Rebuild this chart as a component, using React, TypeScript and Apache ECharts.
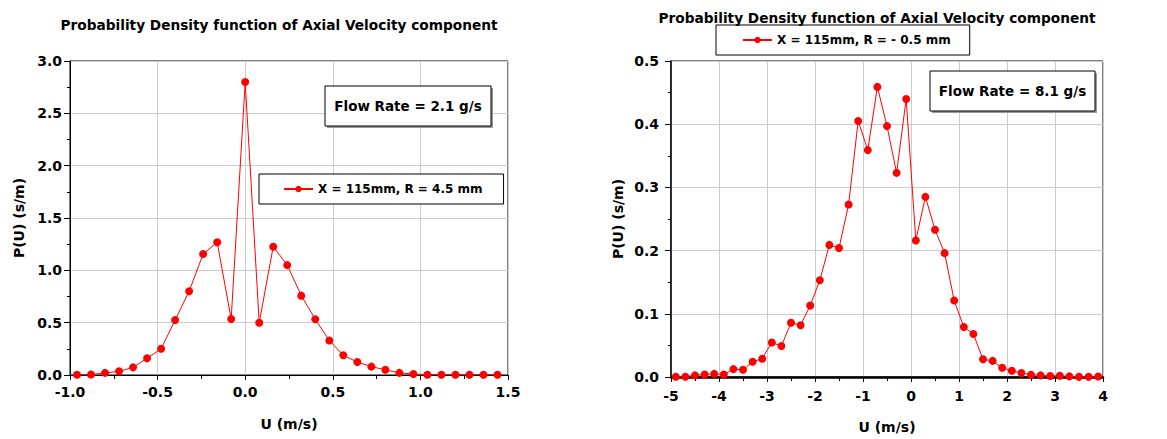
import React, { useEffect, useRef } from "react";
import * as echarts from "echarts";

const titleText = "Probability Density function of Axial Velocity component";

// Left chart (Flow Rate = 2.1 g/s)
const leftName = "X = 115mm, R = 4.5 mm";
const leftFlow = "Flow Rate = 2.1 g/s";
const leftU = [-0.96, -0.88, -0.8, -0.72, -0.64, -0.56, -0.48, -0.4, -0.32, -0.24, -0.16, -0.08, 0, 0.08, 0.16, 0.24, 0.32, 0.4, 0.48, 0.56, 0.64, 0.72, 0.8, 0.88, 0.96, 1.04, 1.12, 1.2, 1.28, 1.36, 1.44];
const leftP = [0.003, 0.005, 0.02, 0.035, 0.073, 0.16, 0.25, 0.525, 0.8, 1.156, 1.268, 0.535, 2.8, 0.5, 1.226, 1.05, 0.758, 0.532, 0.33, 0.188, 0.124, 0.08, 0.05, 0.02, 0.01, 0.003, 0.003, 0.003, 0.003, 0.003, 0.003];

// Right chart (Flow Rate = 8.1 g/s)
const rightName = "X = 115mm, R = - 0.5 mm";
const rightFlow = "Flow Rate = 8.1 g/s";
const rightU = [-4.9, -4.7, -4.5, -4.3, -4.1, -3.9, -3.7, -3.5, -3.3, -3.1, -2.9, -2.7, -2.5, -2.3, -2.1, -1.9, -1.7, -1.5, -1.3, -1.1, -0.9, -0.7, -0.5, -0.3, -0.1, 0.1, 0.3, 0.5, 0.7, 0.9, 1.1, 1.3, 1.5, 1.7, 1.9, 2.1, 2.3, 2.5, 2.7, 2.9, 3.1, 3.3, 3.5, 3.7, 3.9];
const rightP = [0.0005, 0.0005, 0.0026, 0.004, 0.005, 0.004, 0.0125, 0.0114, 0.024, 0.029, 0.0546, 0.049, 0.0858, 0.082, 0.113, 0.153, 0.209, 0.204, 0.273, 0.405, 0.359, 0.459, 0.397, 0.323, 0.44, 0.216, 0.285, 0.233, 0.196, 0.121, 0.079, 0.068, 0.028, 0.0255, 0.0146, 0.0099, 0.0062, 0.0036, 0.0026, 0.0016, 0.002, 0.001, 0.0005, 0.0005, 0.0008];

const xName = "U (m/s)";
const yName = "P(U) (s/m)";

const FONT = "DejaVu Sans";

export default function App() {
  const ref = useRef<HTMLDivElement>(null);
  useEffect(() => {
    if (!ref.current) return;
    const chart = echarts.init(ref.current, null, { renderer: "svg" });
    const labelStyle = { color: "#000", fontFamily: FONT, fontWeight: "bold" as const, fontSize: 14 };
    const nameStyle = { color: "#000", fontFamily: FONT, fontWeight: "bold" as const, fontSize: 14 };
    const splitLine = { show: true, lineStyle: { color: "#cccccc", width: 1 } };
    const mkX = (gi: number, min: number, max: number, interval: number, fmt: (v: number) => string, lineW: number, nameGap: number, margin: number) => ({
      type: "value",
      gridIndex: gi,
      min,
      max,
      interval,
      name: xName,
      nameLocation: "middle",
      nameGap,
      nameTextStyle: nameStyle,
      axisLine: { show: true, onZero: false, lineStyle: { color: "#000", width: lineW } },
      axisTick: { show: true, length: 5, lineStyle: { color: "#000" } },
      minorTick: { show: true, splitNumber: 2, length: 4, lineStyle: { color: "#000" } },
      axisLabel: { ...labelStyle, margin, formatter: fmt },
      splitLine,
    });
    const mkY = (gi: number, min: number, max: number, interval: number, lineW: number, nameGap: number, margin: number) => ({
      type: "value",
      gridIndex: gi,
      min,
      max,
      interval,
      name: yName,
      nameLocation: "middle",
      nameGap,
      nameTextStyle: nameStyle,
      axisLine: { show: true, onZero: false, lineStyle: { color: "#000", width: lineW } },
      axisTick: { show: true, length: 6, lineStyle: { color: "#000" } },
      minorTick: { show: true, splitNumber: 2, length: 3, lineStyle: { color: "#000" } },
      axisLabel: { ...labelStyle, margin, formatter: (v: number) => v.toFixed(1) },
      splitLine,
    });
    const seriesStyle = {
      type: "line",
      symbol: "circle",
      symbolSize: 8,
      itemStyle: { color: "#ff0000" },
      lineStyle: { color: "#ff0000", width: 1 },
    };
    const legendStyle = {
      orient: "horizontal",
      borderColor: "#000",
      borderWidth: 1,
      backgroundColor: "#fff",
      itemWidth: 29,
      itemHeight: 8,
      textStyle: { color: "#000", fontFamily: FONT, fontWeight: "bold" as const, fontSize: 12 },
    };
    const box = (x: number, y: number, w: number, h: number, text: string) => [
      { type: "rect", shape: { x: x + 2, y: y + 2, width: w, height: h }, style: { fill: "#999" }, z: 10 },
      { type: "rect", shape: { x, y, width: w, height: h }, style: { fill: "#fff", stroke: "#000", lineWidth: 1 }, z: 11 },
      {
        type: "text",
        x: x + w / 2,
        y: y + h / 2,
        z: 12,
        style: { text, fill: "#000", font: `bold 13.5px "${FONT}"`, align: "center", verticalAlign: "middle" },
      },
    ];
    chart.setOption({
      animation: false,
      backgroundColor: "#fff",
      title: [
        { text: titleText, left: 274, top: 13, textAlign: "center", textStyle: { color: "#000", fontFamily: FONT, fontWeight: "bold", fontSize: 13.7 } },
        { text: titleText, left: 872, top: 6, textAlign: "center", textStyle: { color: "#000", fontFamily: FONT, fontWeight: "bold", fontSize: 13.7 } },
      ],
      grid: [
        { left: 70, top: 61, width: 438, height: 314, show: true, borderColor: "#000", borderWidth: 1, backgroundColor: "transparent" },
        { left: 671, top: 61, width: 432, height: 321, show: true, borderColor: "#000", borderWidth: 1, backgroundColor: "transparent" },
      ],
      xAxis: [
        mkX(0, -1, 1.5, 0.5, (v: number) => v.toFixed(1), 1, 42, 10),
        mkX(1, -5, 4, 1, (v: number) => String(v), 2.5, 43, 12),
      ],
      yAxis: [mkY(0, 0, 3, 0.5, 1, 44, 8), mkY(1, 0, 0.5, 0.1, 1.5, 46, 12)],
      legend: [
        { ...legendStyle, data: [leftName], left: 259, top: 174, padding: [9, 21, 9, 24] },
        { ...legendStyle, data: [rightName], left: 716, top: 25, padding: [9, 19, 9, 26] },
      ],
      series: [
        { ...seriesStyle, name: leftName, xAxisIndex: 0, yAxisIndex: 0, data: leftU.map((u, i) => [u, leftP[i]]) },
        { ...seriesStyle, name: rightName, xAxisIndex: 1, yAxisIndex: 1, data: rightU.map((u, i) => [u, rightP[i]]) },
      ],
      graphic: [...box(325, 86, 166, 40, leftFlow), ...box(930, 71, 165, 40, rightFlow)],
    });
    return () => chart.dispose();
  }, []);
  return <div ref={ref} style={{ position: "fixed", left: 0, top: 0, width: 1167, height: 439 }} />;
}
